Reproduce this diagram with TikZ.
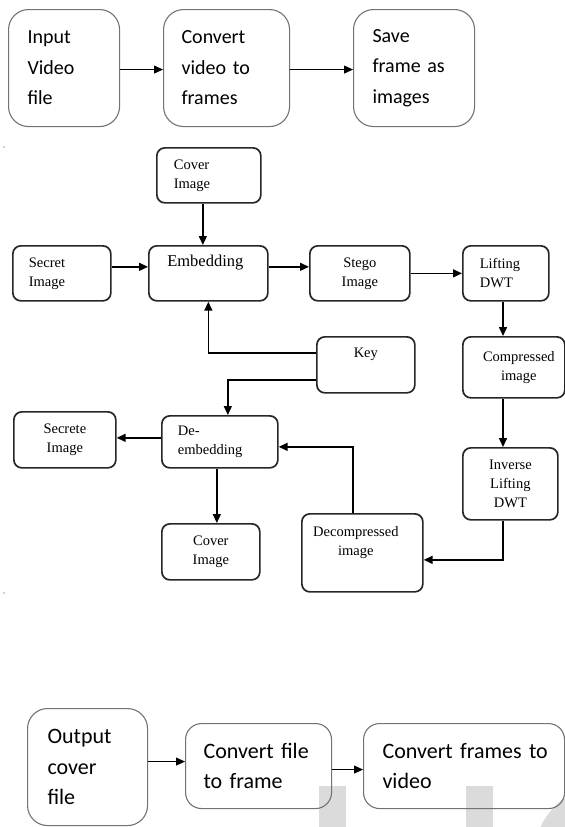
\documentclass[tikz,border=0pt]{standalone}
\usepackage{fontspec}
\setmainfont{Liberation Serif}
\newfontfamily\carlitofont{Carlito}
\usetikzlibrary{arrows.meta}
\newcommand{\topfont}{\carlitofont\fontsize{20bp}{30.5bp}\selectfont}
\newcommand{\botfont}{\carlitofont\fontsize{22bp}{30.5bp}\selectfont}
\newcommand{\midfont}{\fontsize{14.5bp}{19bp}\selectfont}
\newcommand{\embfont}{\fontsize{16.5bp}{20bp}\selectfont}
\newcommand{\padbox}[1]{\mbox{\hspace{#1}}}
\tikzset{
  outerbox/.style={draw=black!55, line width=1.1bp, anchor=north west, inner ysep=0pt},
  topbox/.style={outerbox, rounded corners=20bp, font=\topfont, align=left},
  botbox/.style={outerbox, rounded corners=16bp, font=\botfont, align=left},
  midbox/.style={draw=black!85, line width=1.7bp, rounded corners=8bp, anchor=north west,
                 inner ysep=0pt, font=\midfont},
  topar/.style={-{Triangle[length=9bp,width=8bp]}, line width=1bp, black},
  midar/.style={-{Triangle[length=9bp,width=8bp]}, line width=1.5bp, black},
  wm/.style={fill=black!14, draw=none}
}
\begin{document}
\begin{tikzpicture}[x=1bp,y=-1bp]
\useasboundingbox (0,0) rectangle (565,827);
% watermark fragments
\begin{scope}
  \clip (0,0) rectangle (565,827);
  \fill[wm] (319,786) rectangle (346,827);
  \fill[wm] (466,786) rectangle (493,827);
  \fill[wm] (610,860) circle[radius=77];
\end{scope}
\fill[black!35] (4,147) circle[radius=0.8];
\fill[black!35] (4,593) circle[radius=0.8];

% ---------- top row ----------
\node[topbox, minimum width=111bp, minimum height=117bp, inner xsep=19bp, text width=73bp] (b1) at (8,9) {Input\\Video\\file};
\node[topbox, minimum width=126bp, minimum height=117bp, inner xsep=18bp, text width=90bp] (b2) at (163,9) {Convert\\\mbox{video to}\\frames};
\node[topbox, minimum width=121bp, minimum height=117bp, inner xsep=19bp, text width=83bp] (b3) at (353,9) {Save\\\mbox{frame as}\\images};
\draw[topar] ([yshift=-1.5bp]b1.east) -- ([yshift=-1.5bp]b2.west);
\draw[topar] ([yshift=-1.5bp]b2.east) -- ([yshift=-1.5bp]b3.west);

% ---------- middle ----------
\node[midbox, minimum width=104bp, minimum height=55bp, inner xsep=17bp, text width=70bp, align=left] (cvt) at (156,147) {Cover\\Image};
\node[midbox, minimum width=98bp, minimum height=55bp, inner xsep=16bp, text width=66bp, align=left] (sec) at (12,245) {Secret\\Image};
\node[midbox, minimum width=119bp, minimum height=55bp, inner xsep=5bp, text width=109bp, align=center, font=\embfont] (emb) at (148,245) {Embedding\padbox{6bp}\\\strut};
\node[midbox, minimum width=100bp, minimum height=55bp, inner xsep=5bp, text width=90bp, align=center] (stg) at (309,245) {Stego\\Image};
\node[midbox, minimum width=86bp, minimum height=55bp, inner xsep=17bp, text width=52bp, align=left] (lif) at (462,245) {Lifting\\DWT};
\node[midbox, minimum width=98bp, minimum height=56bp, inner xsep=5bp, text width=88bp, align=center] (key) at (316,336) {Key\\\strut};
\node[midbox, minimum width=102bp, minimum height=61bp, inner xsep=4bp, text width=94bp, align=center] (cmp) at (462,336) {\padbox{10bp}Compressed\\\padbox{10bp}image};
\node[midbox, minimum width=95bp, minimum height=72bp, inner xsep=5bp, text width=85bp, align=center] (inv) at (462,447) {Inverse\\Lifting\\DWT};
\node[midbox, minimum width=102bp, minimum height=56bp, inner xsep=5bp, text width=92bp, align=center] (scr) at (13,411) {Secrete\\Image};
\node[midbox, minimum width=116bp, minimum height=52bp, inner xsep=16bp, text width=84bp, align=left] (dem) at (161,415) {De-\\embedding};
\node[midbox, minimum width=98bp, minimum height=56bp, inner xsep=5bp, text width=88bp, align=center] (cvb) at (161,523) {Cover\\Image};
\node[midbox, minimum width=121bp, minimum height=78bp, inner xsep=5bp, text width=111bp, align=center] (dcp) at (301,513) {Decompressed\padbox{13bp}\\image\padbox{13bp}\\\strut};

\coordinate (colR) at (503,0);
\draw[midar] ([xshift=-6bp]cvt.south) -- ([xshift=-6bp]cvt.south |- emb.north);
\draw[midar] ([yshift=6.5bp]sec.east) -- ([yshift=6.5bp]emb.west);
\draw[midar] ([yshift=6.5bp]emb.east) -- ([yshift=6.5bp]stg.west);
\draw[midar] (stg.east) -- (lif.west);
\draw[midar] (lif.south -| colR) -- (cmp.north -| colR);
\draw[midar] (cmp.south -| colR) -- (inv.north -| colR);
\draw[midar] (inv.south -| colR) |- ([yshift=-7bp]dcp.east);
\draw[midar] ([xshift=-9.5bp]dcp.north) |- ([yshift=-5bp]dem.east);
\draw[midar] ([yshift=12bp]key.west) -| (emb.south);
\draw[midar] ([yshift=-15bp]key.west) -| ([xshift=8bp]dem.north);
\draw[midar] ([yshift=4bp]dem.west) -- ([yshift=4bp]dem.west -| scr.east);
\draw[midar] ([xshift=-3bp]dem.south) -- ([xshift=-3bp]dem.south |- cvb.north);

% ---------- bottom row ----------
\node[botbox, rounded corners=20bp, minimum width=120bp, minimum height=117bp, inner xsep=20bp, text width=80bp] (out) at (27,708) {Output\\cover\\file};
\node[botbox, minimum width=146bp, minimum height=85bp, inner xsep=18bp, text width=110bp] (cf) at (185,723) {\mbox{Convert file}\\\mbox{to frame}};
\node[botbox, minimum width=201bp, minimum height=85bp, inner xsep=19bp, text width=163bp] (cv) at (363,723) {\mbox{Convert frames to}\\video};
\draw[topar] ([yshift=5.5bp]out.east) -- ([yshift=5.5bp]out.east -| cf.west);
\draw[topar] ([yshift=-3.5bp]cf.east) -- ([yshift=-3.5bp]cv.west);
\end{tikzpicture}
\end{document}
